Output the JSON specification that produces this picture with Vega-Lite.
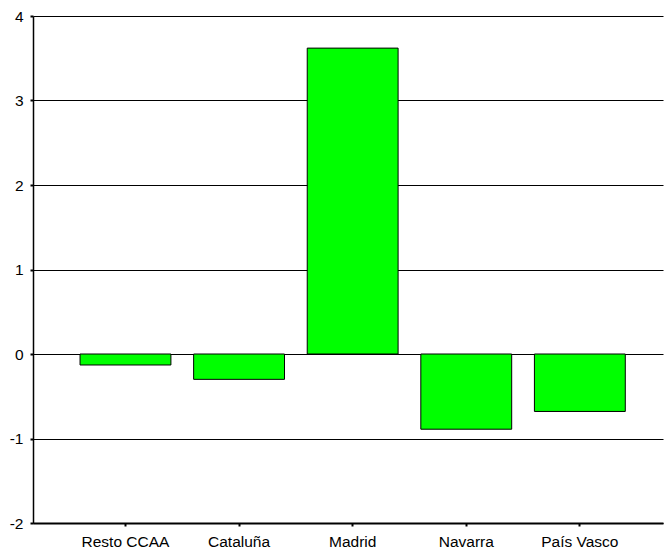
{
  "$schema": "https://vega.github.io/schema/vega-lite/v6.json",
  "autosize": {"type": "none"},
  "padding": {"left": 33, "top": 16, "right": 2, "bottom": 26},
  "width": 630,
  "height": 507,
  "background": "white",
  "config": {
    "view": {"stroke": null},
    "font": "Liberation Sans"
  },
  "data": {
    "values": [
      {"region": "Resto CCAA", "value": -0.13},
      {"region": "Cataluña", "value": -0.30},
      {"region": "Madrid", "value": 3.62},
      {"region": "Navarra", "value": -0.89},
      {"region": "País Vasco", "value": -0.68}
    ]
  },
  "mark": {"type": "bar", "fill": "#00FF00", "stroke": "#000000", "strokeWidth": 1},
  "encoding": {
    "x": {
      "field": "region",
      "type": "nominal",
      "sort": null,
      "scale": {"paddingInner": 0.2, "paddingOuter": 0.373, "align": 0.555},
      "axis": {
        "title": null,
        "labelAngle": 0,
        "labelFontSize": 15.5,
        "labelColor": "#000000",
        "labelPadding": 8,
        "domainColor": "#000000",
        "domainWidth": 2,
        "tickColor": "#000000",
        "tickSize": 3,
        "tickWidth": 2,
        "grid": false
      }
    },
    "y": {
      "field": "value",
      "type": "quantitative",
      "scale": {"domain": [-2, 4], "nice": false, "zero": false},
      "axis": {
        "title": null,
        "values": [-2, -1, 0, 1, 2, 3, 4],
        "labelExpr": "'' + datum.value",
        "labelFontSize": 15.5,
        "labelColor": "#000000",
        "labelPadding": 7,
        "domainColor": "#000000",
        "domainWidth": 1.5,
        "tickColor": "#000000",
        "tickSize": 3,
        "tickWidth": 2,
        "grid": true,
        "gridColor": "#000000",
        "gridWidth": 1,
        "gridOpacity": 1
      }
    }
  }
}
